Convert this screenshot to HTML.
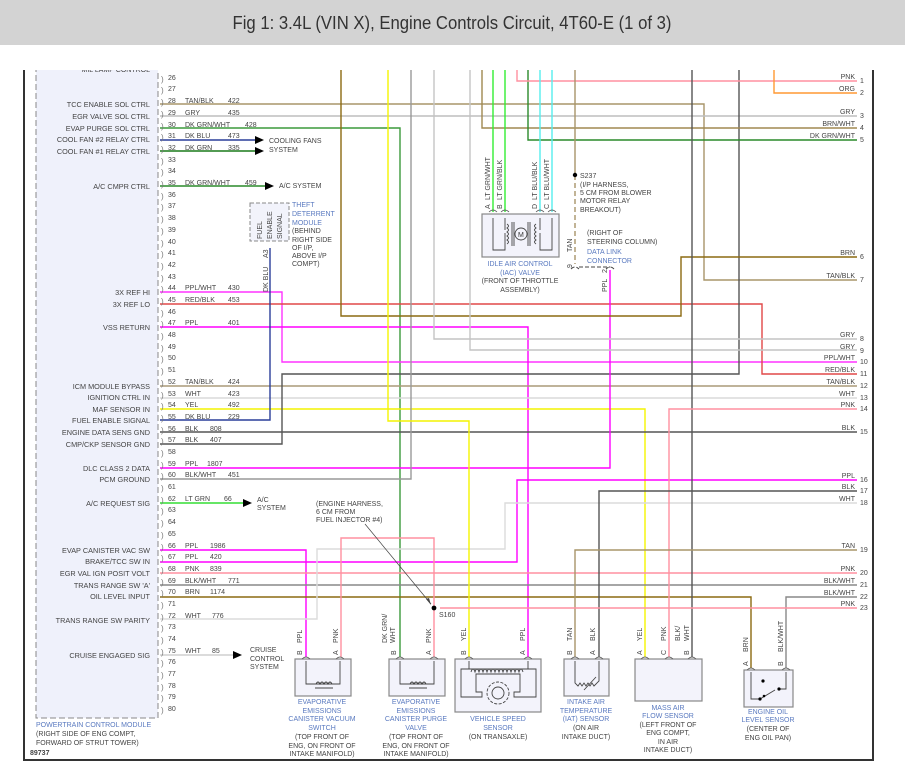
<!DOCTYPE html>
<html><head><meta charset="utf-8"><style>
html,body{margin:0;padding:0;background:#fff;}
svg{display:block;}
text{font-family:"Liberation Sans",sans-serif;}
</style></head><body>
<svg width="905" height="781" viewBox="0 0 905 781" xmlns="http://www.w3.org/2000/svg">
<rect x="0" y="0" width="905" height="45" fill="#d3d3d3"/>
<text x="452" y="29" font-size="18" fill="#333" text-anchor="middle" textLength="439" lengthAdjust="spacingAndGlyphs">Fig 1: 3.4L (VIN X), Engine Controls Circuit, 4T60-E (1 of 3)</text>
<defs><clipPath id="c"><rect x="0" y="70" width="905" height="711"/></clipPath></defs>
<g clip-path="url(#c)">
<!-- PCM box -->
<rect x="36" y="60" width="122" height="658" fill="#eff1fb" stroke="#888" stroke-width="1" stroke-dasharray="6,3"/>
<text x="150" y="72" font-size="7" fill="#444" text-anchor="end">MIL LAMP CONTROL</text>
<!-- frame -->
<path d="M24 60 V760 H873 V60" fill="none" stroke="#333" stroke-width="2"/>

<g fill="none" stroke-width="1.4">
<path d="M160 104 H704 V280 H857" stroke="#a8956a"/>
<path d="M160 116 H857" stroke="#bdbdbd"/>
<path d="M160 128 H400 V657" stroke="#3c9a3c"/>
<path d="M160 140 H256" stroke="#2a3f9a"/>
<path d="M160 151 H256" stroke="#1a7a1a"/>
<path d="M160 186 H266" stroke="#2a8a2a"/>
<path d="M160 292 H282 V362 H857" stroke="#ff33ff"/>
<path d="M160 304 H762 V374 H857" stroke="#e04848"/>
<path d="M160 327 H528 V657" stroke="#ff00ff"/>
<path d="M160 386 H857" stroke="#aa9a78"/>
<path d="M160 398 H857" stroke="#dadada"/>
<path d="M160 409 H645 V657" stroke="#f4f400"/>
<path d="M160 420 H270 V248" stroke="#2a3f9a"/>
<path d="M160 432 H857" stroke="#555"/>
<path d="M160 444 H282 V374 H739 V60" stroke="#555"/>
<path d="M160 468 H610 V270" stroke="#ff00ff"/>
<path d="M160 479 H411 V60" stroke="#999"/>
<path d="M160 503 H244" stroke="#33dd33"/>
<path d="M160 550 H306 V657" stroke="#ff00ff"/>
<path d="M160 562 H517 V480 H857" stroke="#ff00ff"/>
<path d="M160 573 H857" stroke="#ff90a0"/>
<path d="M160 585 H857" stroke="#888"/>
<path d="M160 597 H751 V668" stroke="#8b6a10"/>
<path d="M160 619 H317 V549 H505 V503 H857" stroke="#dcdcdc"/>
<path d="M160 655 H234" stroke="#cfcfcf"/>
<path d="M341 60 V316 H681 V257 H857" stroke="#8b6a10"/>
<path d="M388 60 V421 H469 V657" stroke="#f4f400"/>
<path d="M434 60 V339 H857" stroke="#c4c4c4"/>
<path d="M470 60 V350 H857" stroke="#c4c4c4"/>
<path d="M482 60 V128 H857" stroke="#a08850"/>
<path d="M528 60 V140 H857" stroke="#2a8a2a"/>
<path d="M517 60 V81 H857" stroke="#ff90a0"/>
<path d="M774 60 V93 H857" stroke="#ff9933"/>
<path d="M493 60 V212 M505 60 V212" stroke="#33ee33"/>
<path d="M540 60 V212 M552 60 V212" stroke="#55eeee"/>
<path d="M575 60 V175" stroke="#a8956a"/>
<path d="M575 175 V264" stroke="#a8956a" stroke-dasharray="5,3"/>
<path d="M692 60 V657" stroke="#555"/>
<path d="M857 409 H669 V657" stroke="#ff90a0"/>
<path d="M857 491 H599 V657" stroke="#555"/>
<path d="M857 550 H575 V657" stroke="#a8956a"/>
<path d="M857 597 H786 V668" stroke="#888"/>
<path d="M341 657 V538 H434 V657" stroke="#ff90a0"/>
<path d="M440 608 H857" stroke="#ff90a0"/>
</g>
<!-- arrows -->
<g fill="#000">
<polygon points="255,136 264,140 255,144"/>
<polygon points="255,147 264,151 255,155"/>
<polygon points="265,182 274,186 265,190"/>
<polygon points="243,499 252,503 243,507"/>
<polygon points="233,651 242,655 233,659"/>
<circle cx="575" cy="175" r="2.2"/>
<circle cx="434" cy="608" r="2.4"/>
</g>
<line x1="365" y1="524" x2="431" y2="604" stroke="#444" stroke-width="0.7"/>
<polygon points="431,605 426,599 429,598" fill="#444"/>

<!-- pin numbers left -->
<g font-size="7" fill="#444">
<text x="168" y="80">26</text><text x="168" y="91">27</text><text x="168" y="103">28</text><text x="168" y="115">29</text><text x="168" y="127">30</text><text x="168" y="138">31</text><text x="168" y="150">32</text><text x="168" y="162">33</text><text x="168" y="173">34</text><text x="168" y="185">35</text><text x="168" y="197">36</text><text x="168" y="208">37</text><text x="168" y="220">38</text><text x="168" y="232">39</text><text x="168" y="244">40</text><text x="168" y="255">41</text><text x="168" y="267">42</text><text x="168" y="279">43</text><text x="168" y="290">44</text><text x="168" y="302">45</text><text x="168" y="314">46</text><text x="168" y="325">47</text><text x="168" y="337">48</text><text x="168" y="349">49</text><text x="168" y="360">50</text><text x="168" y="372">51</text><text x="168" y="384">52</text><text x="168" y="396">53</text><text x="168" y="407">54</text><text x="168" y="419">55</text><text x="168" y="431">56</text><text x="168" y="442">57</text><text x="168" y="454">58</text><text x="168" y="466">59</text><text x="168" y="477">60</text><text x="168" y="489">61</text><text x="168" y="501">62</text><text x="168" y="512">63</text><text x="168" y="524">64</text><text x="168" y="536">65</text><text x="168" y="548">66</text><text x="168" y="559">67</text><text x="168" y="571">68</text><text x="168" y="583">69</text><text x="168" y="594">70</text><text x="168" y="606">71</text><text x="168" y="618">72</text><text x="168" y="629">73</text><text x="168" y="641">74</text><text x="168" y="653">75</text><text x="168" y="664">76</text><text x="168" y="676">77</text><text x="168" y="688">78</text><text x="168" y="699">79</text><text x="168" y="711">80</text>
</g>
<g font-size="8" fill="#777">
<text x="161" y="82">)</text><text x="161" y="93">)</text><text x="161" y="105">)</text><text x="161" y="117">)</text><text x="161" y="129">)</text><text x="161" y="140">)</text><text x="161" y="152">)</text><text x="161" y="164">)</text><text x="161" y="175">)</text><text x="161" y="187">)</text><text x="161" y="199">)</text><text x="161" y="210">)</text><text x="161" y="222">)</text><text x="161" y="234">)</text><text x="161" y="246">)</text><text x="161" y="257">)</text><text x="161" y="269">)</text><text x="161" y="281">)</text><text x="161" y="292">)</text><text x="161" y="304">)</text><text x="161" y="316">)</text><text x="161" y="327">)</text><text x="161" y="339">)</text><text x="161" y="351">)</text><text x="161" y="362">)</text><text x="161" y="374">)</text><text x="161" y="386">)</text><text x="161" y="398">)</text><text x="161" y="409">)</text><text x="161" y="421">)</text><text x="161" y="433">)</text><text x="161" y="444">)</text><text x="161" y="456">)</text><text x="161" y="468">)</text><text x="161" y="479">)</text><text x="161" y="491">)</text><text x="161" y="503">)</text><text x="161" y="514">)</text><text x="161" y="526">)</text><text x="161" y="538">)</text><text x="161" y="550">)</text><text x="161" y="561">)</text><text x="161" y="573">)</text><text x="161" y="585">)</text><text x="161" y="596">)</text><text x="161" y="608">)</text><text x="161" y="620">)</text><text x="161" y="631">)</text><text x="161" y="643">)</text><text x="161" y="655">)</text><text x="161" y="666">)</text><text x="161" y="678">)</text><text x="161" y="690">)</text><text x="161" y="701">)</text><text x="161" y="713">)</text>
</g>
<!-- PCM labels -->
<g font-size="7.3" fill="#444" text-anchor="end">
<text x="150" y="107">TCC ENABLE SOL CTRL</text>
<text x="150" y="119">EGR VALVE SOL CTRL</text>
<text x="150" y="131">EVAP PURGE SOL CTRL</text>
<text x="150" y="142">COOL FAN #2 RELAY CTRL</text>
<text x="150" y="154">COOL FAN #1 RELAY CTRL</text>
<text x="150" y="189">A/C CMPR CTRL</text>
<text x="150" y="295">3X REF HI</text>
<text x="150" y="307">3X REF LO</text>
<text x="150" y="330">VSS RETURN</text>
<text x="150" y="389">ICM MODULE BYPASS</text>
<text x="150" y="400">IGNITION CTRL IN</text>
<text x="150" y="412">MAF SENSOR IN</text>
<text x="150" y="423">FUEL ENABLE SIGNAL</text>
<text x="150" y="435">ENGINE DATA SENS GND</text>
<text x="150" y="447">CMP/CKP SENSOR GND</text>
<text x="150" y="471">DLC CLASS 2 DATA</text>
<text x="150" y="482">PCM GROUND</text>
<text x="150" y="506">A/C REQUEST SIG</text>
<text x="150" y="553">EVAP CANISTER VAC SW</text>
<text x="150" y="564">BRAKE/TCC SW IN</text>
<text x="150" y="576">EGR VAL IGN POSIT VOLT</text>
<text x="150" y="588">TRANS RANGE SW 'A'</text>
<text x="150" y="599">OIL LEVEL INPUT</text>
<text x="150" y="623">TRANS RANGE SW PARITY</text>
<text x="150" y="658">CRUISE ENGAGED SIG</text>
</g>
<!-- wire labels left -->
<g font-size="7" fill="#444">
<text x="185" y="103">TAN/BLK</text><text x="228" y="103">422</text>
<text x="185" y="115">GRY</text><text x="228" y="115">435</text>
<text x="185" y="127">DK GRN/WHT</text><text x="245" y="127">428</text>
<text x="185" y="138">DK BLU</text><text x="228" y="138">473</text>
<text x="185" y="150">DK GRN</text><text x="228" y="150">335</text>
<text x="185" y="185">DK GRN/WHT</text><text x="245" y="185">459</text>
<text x="185" y="290">PPL/WHT</text><text x="228" y="290">430</text>
<text x="185" y="302">RED/BLK</text><text x="228" y="302">453</text>
<text x="185" y="325">PPL</text><text x="228" y="325">401</text>
<text x="185" y="384">TAN/BLK</text><text x="228" y="384">424</text>
<text x="185" y="396">WHT</text><text x="228" y="396">423</text>
<text x="185" y="407">YEL</text><text x="228" y="407">492</text>
<text x="185" y="419">DK BLU</text><text x="228" y="419">229</text>
<text x="185" y="431">BLK</text><text x="210" y="431">808</text>
<text x="185" y="442">BLK</text><text x="210" y="442">407</text>
<text x="185" y="466">PPL</text><text x="207" y="466">1807</text>
<text x="185" y="477">BLK/WHT</text><text x="228" y="477">451</text>
<text x="185" y="501">LT GRN</text><text x="224" y="501">66</text>
<text x="185" y="548">PPL</text><text x="210" y="548">1986</text>
<text x="185" y="559">PPL</text><text x="210" y="559">420</text>
<text x="185" y="571">PNK</text><text x="210" y="571">839</text>
<text x="185" y="583">BLK/WHT</text><text x="228" y="583">771</text>
<text x="185" y="594">BRN</text><text x="210" y="594">1174</text>
<text x="185" y="618">WHT</text><text x="212" y="618">776</text>
<text x="185" y="653">WHT</text><text x="212" y="653">85</text>
<text x="269" y="143">COOLING FANS</text><text x="269" y="152">SYSTEM</text>
<text x="279" y="188">A/C SYSTEM</text>
<text x="257" y="502">A/C</text><text x="257" y="510">SYSTEM</text>
<text x="250" y="652">CRUISE</text><text x="250" y="661">CONTROL</text><text x="250" y="669">SYSTEM</text>
<text x="316" y="506">(ENGINE HARNESS,</text><text x="316" y="514">6 CM FROM</text><text x="316" y="522">FUEL INJECTOR #4)</text>
<text x="439" y="617">S160</text>
<text x="580" y="178">S237</text>
<text x="580" y="187">(I/P HARNESS,</text><text x="580" y="195">5 CM FROM BLOWER</text><text x="580" y="203">MOTOR RELAY</text><text x="580" y="212">BREAKOUT)</text>
<text x="587" y="235">(RIGHT OF</text><text x="587" y="244">STEERING COLUMN)</text>
<text x="587" y="254" fill="#5a7ac0">DATA LINK</text><text x="587" y="263" fill="#5a7ac0">CONNECTOR</text>
<text x="292" y="207" fill="#5a7ac0">THEFT</text><text x="292" y="216" fill="#5a7ac0">DETERRENT</text><text x="292" y="225" fill="#5a7ac0">MODULE</text>
<text x="292" y="233">(BEHIND</text><text x="292" y="242">RIGHT SIDE</text><text x="292" y="250">OF I/P,</text><text x="292" y="258">ABOVE I/P</text><text x="292" y="266">COMPT)</text>
<text x="30" y="755" font-weight="bold" font-size="7">89737</text>
<text x="36" y="727" fill="#5a7ac0">POWERTRAIN CONTROL MODULE</text>
<text x="36" y="736">(RIGHT SIDE OF ENG COMPT,</text>
<text x="36" y="745">FORWARD OF STRUT TOWER)</text>
</g>
<!-- right labels -->
<g font-size="7" fill="#444">
<g text-anchor="end">
<text x="855" y="79">PNK</text><text x="855" y="91">ORG</text><text x="855" y="114">GRY</text><text x="855" y="126">BRN/WHT</text><text x="855" y="138">DK GRN/WHT</text><text x="855" y="255">BRN</text><text x="855" y="278">TAN/BLK</text><text x="855" y="337">GRY</text><text x="855" y="349">GRY</text><text x="855" y="360">PPL/WHT</text><text x="855" y="372">RED/BLK</text><text x="855" y="384">TAN/BLK</text><text x="855" y="396">WHT</text><text x="855" y="407">PNK</text><text x="855" y="430">BLK</text><text x="855" y="478">PPL</text><text x="855" y="489">BLK</text><text x="855" y="501">WHT</text><text x="855" y="548">TAN</text><text x="855" y="571">PNK</text><text x="855" y="583">BLK/WHT</text><text x="855" y="595">BLK/WHT</text><text x="855" y="606">PNK</text>
</g>
<text x="860" y="83">1</text><text x="860" y="95">2</text><text x="860" y="118">3</text><text x="860" y="130">4</text><text x="860" y="142">5</text><text x="860" y="259">6</text><text x="860" y="282">7</text><text x="860" y="341">8</text><text x="860" y="353">9</text><text x="860" y="364">10</text><text x="860" y="376">11</text><text x="860" y="388">12</text><text x="860" y="400">13</text><text x="860" y="411">14</text><text x="860" y="434">15</text><text x="860" y="482">16</text><text x="860" y="493">17</text><text x="860" y="505">18</text><text x="860" y="552">19</text><text x="860" y="575">20</text><text x="860" y="587">21</text><text x="860" y="599">22</text><text x="860" y="610">23</text>
</g>

<!-- theft module -->
<rect x="250" y="203" width="39" height="38" fill="#f2f3fb" stroke="#888" stroke-dasharray="4,2"/>
<g font-size="7" fill="#444">
<text transform="translate(262,239) rotate(-90)">FUEL</text>
<text transform="translate(272,239) rotate(-90)">ENABLE</text>
<text transform="translate(282,239) rotate(-90)">SIGNAL</text>
<text transform="translate(268,258) rotate(-90)">A3</text>
<text transform="translate(268,292) rotate(-90)">DK BLU</text>
<text transform="translate(572,268) rotate(-90)">9</text>
<text transform="translate(572,252) rotate(-90)">TAN</text>
<text transform="translate(607,273) rotate(-90)">2</text>
<text transform="translate(607,292) rotate(-90)">PPL</text>
<!-- IAC labels -->
<text transform="translate(490,209) rotate(-90)">A</text>
<text transform="translate(490,200) rotate(-90)">LT GRN/WHT</text>
<text transform="translate(502,209) rotate(-90)">B</text>
<text transform="translate(502,200) rotate(-90)">LT GRN/BLK</text>
<text transform="translate(537,209) rotate(-90)">D</text>
<text transform="translate(537,200) rotate(-90)">LT BLU/BLK</text>
<text transform="translate(549,209) rotate(-90)">C</text>
<text transform="translate(549,200) rotate(-90)">LT BLU/WHT</text>
<!-- bottom pin labels -->
<text transform="translate(302,655) rotate(-90)">B</text><text transform="translate(302,643) rotate(-90)">PPL</text>
<text transform="translate(338,655) rotate(-90)">A</text><text transform="translate(338,643) rotate(-90)">PNK</text>
<text transform="translate(396,655) rotate(-90)">B</text><text transform="translate(387,643) rotate(-90)">DK GRN/</text><text transform="translate(395,643) rotate(-90)">WHT</text>
<text transform="translate(431,655) rotate(-90)">A</text><text transform="translate(431,643) rotate(-90)">PNK</text>
<text transform="translate(466,655) rotate(-90)">B</text><text transform="translate(466,641) rotate(-90)">YEL</text>
<text transform="translate(525,655) rotate(-90)">A</text><text transform="translate(525,641) rotate(-90)">PPL</text>
<text transform="translate(572,655) rotate(-90)">B</text><text transform="translate(572,641) rotate(-90)">TAN</text>
<text transform="translate(595,655) rotate(-90)">A</text><text transform="translate(595,641) rotate(-90)">BLK</text>
<text transform="translate(642,655) rotate(-90)">A</text><text transform="translate(642,641) rotate(-90)">YEL</text>
<text transform="translate(666,655) rotate(-90)">C</text><text transform="translate(666,641) rotate(-90)">PNK</text>
<text transform="translate(689,655) rotate(-90)">B</text><text transform="translate(680,641) rotate(-90)">BLK/</text><text transform="translate(689,641) rotate(-90)">WHT</text>
<text transform="translate(748,666) rotate(-90)">A</text><text transform="translate(748,652) rotate(-90)">BRN</text>
<text transform="translate(783,666) rotate(-90)">B</text><text transform="translate(783,652) rotate(-90)">BLK/WHT</text>
</g>
<!-- DLC connector -->
<path d="M571 269 q4 -4 8 0 M579 267 H610 M614 269 q-4 -4 -8 0" fill="none" stroke="#444" stroke-width="1" stroke-dasharray="4,2"/>

<!-- components -->
<g fill="#f3f3fb" stroke="#888" stroke-width="1.2">
<rect x="482" y="214" width="77" height="43"/>
<rect x="295" y="659" width="56" height="37"/>
<rect x="389" y="659" width="56" height="37"/>
<rect x="455" y="659" width="86" height="53"/>
<rect x="564" y="659" width="45" height="37"/>
<rect x="635" y="659" width="67" height="42"/>
<rect x="744" y="670" width="49" height="37"/>
</g>
<g fill="none" stroke="#444" stroke-width="0.9">
<!-- IAC internals -->
<path d="M493 218 V250 H505 V233 M505 218 V230 M540 218 V230 M540 233 V250 H552 V218"/>
<path d="M507 224 q3 2 0 4 q3 2 0 4 q3 2 0 4 q3 2 0 4 q3 2 0 4 M512 222 V246 M514 222 V246 M528 222 V246 M530 222 V246 M536 224 q-3 2 0 4 q-3 2 0 4 q-3 2 0 4 q-3 2 0 4 q-3 2 0 4"/>
<circle cx="521" cy="234" r="6"/>
<!-- vac switch / purge -->
<path d="M306 661 V684 H340 V661 M316 684 q2 -4 4 0 q2 -4 4 0 q2 -4 4 0 q2 -4 4 0 M315 688 H333"/>
<path d="M400 661 V684 H434 V661 M410 684 q2 -4 4 0 q2 -4 4 0 q2 -4 4 0 q2 -4 4 0 M409 688 H427"/>
<!-- VSS -->
<path d="M469 661 V669 M528 661 V669 M461 669 H536 V697 H514 V692 H520 V674 H476 V692 H482 V697 H461 Z"/>
<path d="M471 672 q2 -6 4 0 q2 -6 4 0 q2 -6 4 0 q2 -6 4 0 q2 -6 4 0 q2 -6 4 0 q2 -6 4 0 q2 -6 4 0 q2 -6 4 0 q2 -6 4 0 q2 -6 4 0 q2 -6 4 0 q2 -6 4 0"/>
<circle cx="498" cy="693" r="11" stroke-dasharray="3,1.5"/>
<circle cx="498" cy="693" r="6"/>
<!-- IAT -->
<path d="M575 661 V683 l3 3 l2 -3 l2 3 l2 -3 l2 3 l2 -3 l2 3 l2 -3 l2 3 L599 681 V661 M584 690 L596 677"/>
<!-- oil -->
<path d="M751 672 V699 H760 L775 690 M786 672 V689 H778"/>
</g>
<g fill="#000"><circle cx="763" cy="681" r="1.6"/><circle cx="760" cy="699" r="1.6"/><circle cx="764" cy="696" r="1.3"/><circle cx="779" cy="689" r="1.6"/></g>
<!-- pin heads -->
<g fill="none" stroke="#555" stroke-width="0.8">
<path d="M489 212 q4 -4 8 0 M501 212 q4 -4 8 0 M536 212 q4 -4 8 0 M548 212 q4 -4 8 0"/>
<path d="M302 659 q4 -4 8 0 M336 659 q4 -4 8 0 M396 659 q4 -4 8 0 M430 659 q4 -4 8 0 M465 659 q4 -4 8 0 M524 659 q4 -4 8 0 M571 659 q4 -4 8 0 M595 659 q4 -4 8 0 M641 659 q4 -4 8 0 M665 659 q4 -4 8 0 M688 659 q4 -4 8 0 M747 670 q4 -4 8 0 M782 670 q4 -4 8 0"/>
</g>
<text x="518" y="237" font-size="7" fill="#333">M</text>
<!-- component labels -->
<g font-size="7" fill="#444" text-anchor="middle">
<g fill="#5a7ac0">
<text x="520" y="266">IDLE AIR CONTROL</text><text x="520" y="275">(IAC) VALVE</text>
<text x="322" y="704">EVAPORATIVE</text><text x="322" y="713">EMISSIONS</text><text x="322" y="721">CANISTER VACUUM</text><text x="322" y="730">SWITCH</text>
<text x="416" y="704">EVAPORATIVE</text><text x="416" y="713">EMISSIONS</text><text x="416" y="721">CANISTER PURGE</text><text x="416" y="730">VALVE</text>
<text x="498" y="721">VEHICLE SPEED</text><text x="498" y="730">SENSOR</text>
<text x="586" y="704">INTAKE AIR</text><text x="586" y="713">TEMPERATURE</text><text x="586" y="721">(IAT) SENSOR</text>
<text x="668" y="710">MASS AIR</text><text x="668" y="718">FLOW SENSOR</text>
<text x="768" y="714">ENGINE OIL</text><text x="768" y="722">LEVEL SENSOR</text>
</g>
<text x="520" y="283">(FRONT OF THROTTLE</text><text x="520" y="292">ASSEMBLY)</text>
<text x="322" y="739">(TOP FRONT OF</text><text x="322" y="748">ENG, ON FRONT OF</text><text x="322" y="756">INTAKE MANIFOLD)</text>
<text x="416" y="739">(TOP FRONT OF</text><text x="416" y="748">ENG, ON FRONT OF</text><text x="416" y="756">INTAKE MANIFOLD)</text>
<text x="498" y="739">(ON TRANSAXLE)</text>
<text x="586" y="730">(ON AIR</text><text x="586" y="739">INTAKE DUCT)</text>
<text x="668" y="727">(LEFT FRONT OF</text><text x="668" y="735">ENG COMPT,</text><text x="668" y="744">IN AIR</text><text x="668" y="752">INTAKE DUCT)</text>
<text x="768" y="731">(CENTER OF</text><text x="768" y="740">ENG OIL PAN)</text>
</g>
</g>
</svg>
</body></html>
